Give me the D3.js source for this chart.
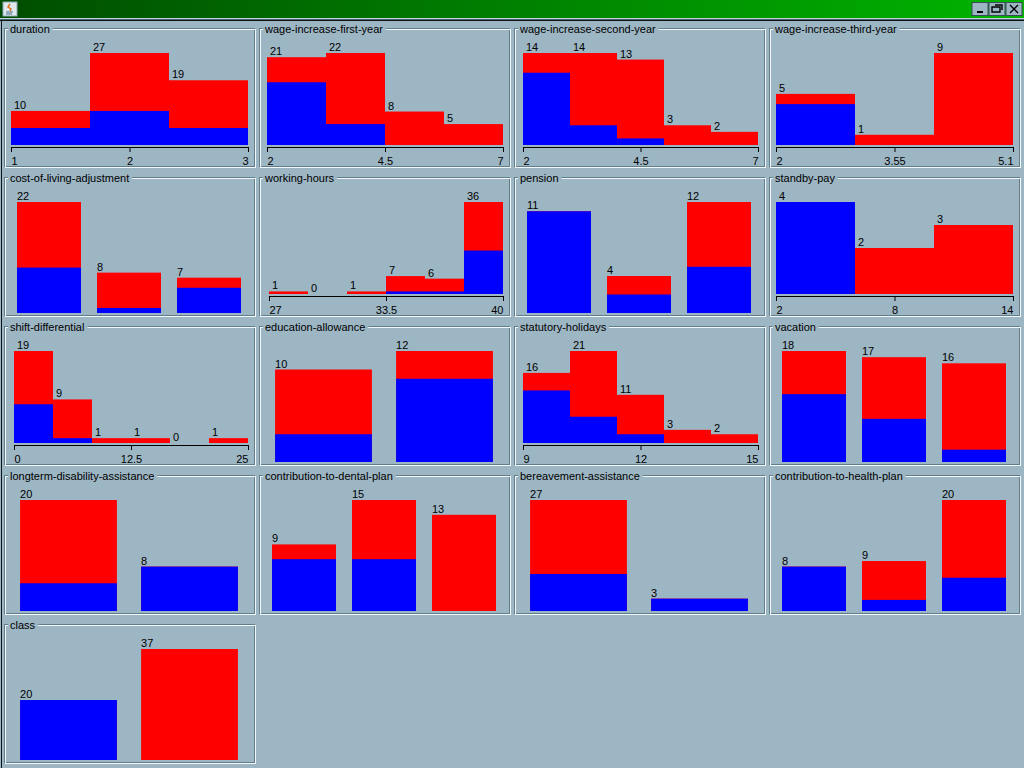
<!DOCTYPE html>
<html><head><meta charset="utf-8">
<script src="https://cdn.jsdelivr.net/npm/d3@7"></script>
<style>html,body{margin:0;padding:0;background:#9db6c4;overflow:hidden}svg{display:block}
text{font-family:"Liberation Sans",sans-serif;font-size:11px;fill:#000}</style></head><body>
<svg id="c" width="1024" height="768"></svg>
<script>
const attributes = ["duration","wage-increase-first-year","wage-increase-second-year","wage-increase-third-year",
 "cost-of-living-adjustment","working-hours","pension","standby-pay",
 "shift-differential","education-allowance","statutory-holidays","vacation",
 "longterm-disability-assistance","contribution-to-dental-plan","bereavement-assistance","contribution-to-health-plan","class"];
const totals = [[10,27,19],[21,22,8,5],[14,14,13,3,2],[5,1,9],
 [22,8,7],[1,0,1,7,6,36],[11,4,12],[4,2,3],
 [19,9,1,1,0,1],[10,12],[16,21,11,3,2],[18,17,16],
 [20,8],[9,15,13],[27,3],[8,9,20],[20,37]];
const blues = [[5,10,5],[15,5,0,0],[11,3,1,0,0],[4,0,0],
 [9,1,5],[0,0,0,1,1,17],[11,2,5],[4,0,0],
 [8,1,0,0,0,0],[3,9],[12,6,2,0,0],[11,7,2],
 [5,8],[7,7,0],[9,3],[8,2,6],[20,0]];
const axisTicks = [["1","2","3"],["2","4.5","7"],["2","4.5","7"],["2","3.55","5.1"],
 null,["27","33.5","40"],null,["2","8","14"],
 ["0","12.5","25"],null,["9","12","15"],null,
 null,null,null,null,null];

const svg = d3.select("#c");
// window chrome
const defs = svg.append("defs");
const g = defs.append("linearGradient").attr("id","tb");
g.append("stop").attr("offset","0").attr("stop-color","#004d00");
g.append("stop").attr("offset","1").attr("stop-color","#00b400");
svg.append("rect").attr("width",1024).attr("height",18).attr("fill","url(#tb)");
svg.append("rect").attr("y",18).attr("width",1024).attr("height",1).attr("fill","#c3d3dc");
svg.append("rect").attr("y",19).attr("width",1024).attr("height",1).attr("fill","#4a6270");
svg.append("rect").attr("y",20).attr("width",1024).attr("height",1).attr("fill","#0c1418");
svg.append("rect").attr("x",1).attr("y",20).attr("width",1).attr("height",748).attr("fill","#0c1418");
svg.append("rect").attr("x",3).attr("y",2).attr("width",14).attr("height",14).attr("fill","#dfe8ee").attr("stroke","#8fa6b4");
svg.append("path").attr("d","M6 12h7M6 14h6").attr("stroke","#4a6a8a").attr("fill","none");
svg.append("path").attr("d","M10 4l-2 3 3 2-1 2").attr("stroke","#e0701a").attr("stroke-width",1.5).attr("fill","none");
[[972,"M977 12h6"],[989,"M992 7h8v5h-8zM995 5h7v5"],[1006,"M1010 5l8 8M1018 5l-8 8"]].forEach(([x,d])=>{
  svg.append("rect").attr("x",x).attr("y",2.5).attr("width",16).attr("height",13).attr("fill","#9db6c4").attr("stroke","#3a4c58");
  svg.append("path").attr("d",d).attr("fill","none").attr("stroke","#000").attr("stroke-width",x===972?2:1.4);
});

const colStep=255, rowStep=149, panelW=251, panelH=139, left0=4, top0=28;
attributes.forEach((name,i)=>{
  const px=left0+(i%4)*colStep, py=top0+Math.floor(i/4)*rowStep;
  const p=svg.append("g").attr("transform",`translate(${px},${py})`);
  // etched border
  p.append("rect").attr("x",.5).attr("y",.5).attr("width",panelW-1).attr("height",panelH-1).attr("fill","none").attr("stroke","#5f7f8c");
  p.append("rect").attr("x",1.5).attr("y",1.5).attr("width",panelW-1).attr("height",panelH-1).attr("fill","none").attr("stroke","#f4f8fa");
  const lbl=p.append("text").attr("x",6).attr("y",5).text(name);
  const tw=lbl.node().getComputedTextLength();
  p.insert("rect","text").attr("x",4).attr("y",-1).attr("width",tw+5).attr("height",5).attr("fill","#9db6c4");

  const tot=totals[i], blu=blues[i], ticks=axisTicks[i], n=tot.length;
  const bottom = ticks?117:136;
  const y=d3.scaleLinear().domain([0,d3.max(tot)]).range([bottom,25]);
  let bx,bw,labelOff;
  if(ticks){
    bw=Math.floor(237/n);
    const right=244;
    const x=d3.scaleLinear().domain([0,n]).range([right-n*bw,right]);
    bx=k=>x(k); labelOff=3;
    const ax=d3.scalePoint().domain(ticks).range([right-n*bw,right]);
    const a=p.append("g").attr("transform",`translate(0,${bottom+2})`)
      .call(d3.axisBottom(ax).tickSize(5).tickPadding(5).tickSizeOuter(0));
    a.select(".domain").attr("stroke","#000");
    a.selectAll("line").attr("stroke","#000");
    a.selectAll("text").style("font-size","11px").style("font-family","'Liberation Sans'").attr("fill","#000")
      .attr("text-anchor",(d,k)=>k===0?"start":k===2?"end":"middle");
  } else {
    const x=d3.scaleBand().domain(d3.range(n)).range([7,243]).paddingInner(.2).paddingOuter(.075);
    bx=k=>x(k); bw=x.bandwidth(); labelOff=0;
  }
  p.selectAll(".r").data(tot).enter().append("rect")
    .attr("x",(d,k)=>bx(k)).attr("width",bw).attr("y",d=>y(d)).attr("height",d=>bottom-y(d)).attr("fill","#f00");
  p.selectAll(".b").data(blu).enter().append("rect")
    .attr("x",(d,k)=>bx(k)).attr("width",bw).attr("y",d=>y(d)).attr("height",d=>bottom-y(d)).attr("fill","#00f");
  p.selectAll(".t").data(tot).enter().append("text")
    .attr("x",(d,k)=>bx(k)+labelOff).attr("y",d=>y(d)-2).text(d=>d);
});
</script></body></html>
